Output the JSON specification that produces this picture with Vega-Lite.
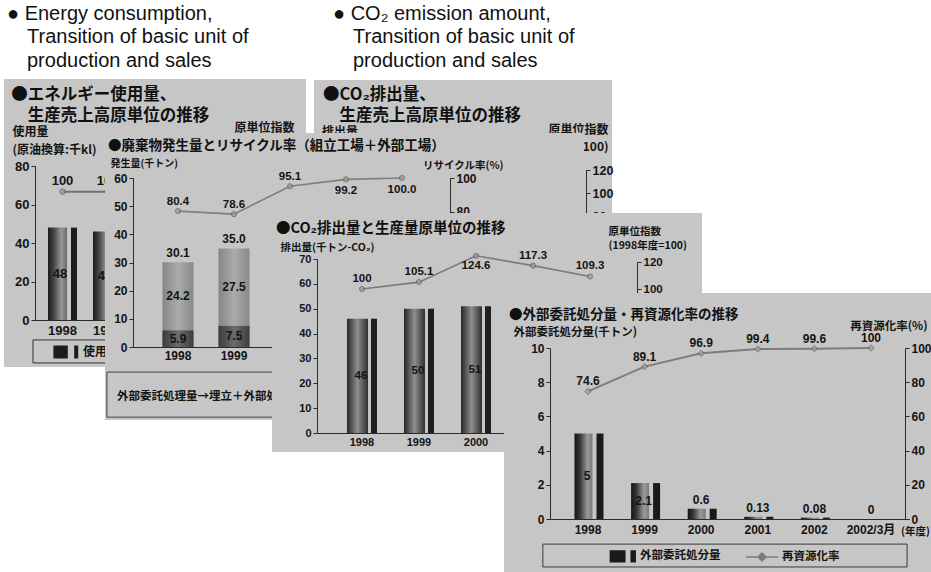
{
  "$schema": "https://vega.github.io/schema/vega-lite/v6.json",
  "background": "#ffffff",
  "padding": 0,
  "spacing": 0,
  "bounds": "flush",
  "resolve": {"scale": {"color": "independent"}, "legend": {"color": "independent"}},
  "datasets": {
    "frame": [{}],
    "energy_use": [{"year": "1998", "v": 48}, {"year": "1999", "v": 46}],
    "energy_index": [{"year": "1998", "idx": 100}, {"year": "1999", "idx": 100}],
    "waste": [
      {"year": "1998", "part": "外部委託処理量", "v": 5.9},
      {"year": "1998", "part": "リサイクル量", "v": 24.2},
      {"year": "1999", "part": "外部委託処理量", "v": 7.5},
      {"year": "1999", "part": "リサイクル量", "v": 27.5}
    ],
    "recycle_rate": [
      {"year": "1998", "r": 80.4}, {"year": "1999", "r": 78.6}, {"year": "2000", "r": 95.1},
      {"year": "2001", "r": 99.2}, {"year": "2002", "r": 100.0}
    ],
    "co2": [{"year": "1998", "v": 46}, {"year": "1999", "v": 50}, {"year": "2000", "v": 51}],
    "co2_index": [
      {"year": "1998", "r": 100}, {"year": "1999", "r": 105.1}, {"year": "2000", "r": 124.6},
      {"year": "2001", "r": 117.3}, {"year": "2002", "r": 109.3}
    ],
    "outsourced": [
      {"year": "1998", "v": 5}, {"year": "1999", "v": 2.1}, {"year": "2000", "v": 0.6},
      {"year": "2001", "v": 0.13}, {"year": "2002", "v": 0.08}, {"year": "2002/3月", "v": 0}
    ],
    "reuse_rate": [
      {"year": "1998", "r": 74.6}, {"year": "1999", "r": 89.1}, {"year": "2000", "r": 96.9},
      {"year": "2001", "r": 99.4}, {"year": "2002", "r": 99.6}, {"year": "2002/3月", "r": 100}
    ]
  },
  "config": {
    "view": {"stroke": null},
    "axis": {
      "zindex": 1, "grid": false,
      "labelFont": "'Liberation Sans', 'Noto Sans CJK JP', sans-serif",
      "labelFontWeight": "bold", "labelColor": "#141414", "labelFontSize": 12,
      "labelOverlap": false, "labelPadding": 2,
      "domainColor": "#2a2a2a", "tickColor": "#2a2a2a", "tickSize": 4,
      "titleFont": "'Noto Sans CJK JP', sans-serif", "titleFontWeight": "bold",
      "titleColor": "#141414", "titleFontSize": 11,
      "titleAngle": 0, "titleAlign": "left", "titleBaseline": "middle"
    },
    "axisBand": {"ticks": false, "labelAngle": 0},
    "legend": {"labelFont": "'Noto Sans CJK JP', sans-serif", "labelFontWeight": "bold", "labelColor": "#141414"},
    "text": {"font": "'Liberation Sans', 'Noto Sans CJK JP', sans-serif", "fontWeight": "bold", "fontSize": 12, "color": "#141414"}
  },
  "hconcat": [
    {
      "width": 1, "height": 572,
      "title": {
        "text": ["● Energy consumption,", "\u200b\u2003Transition of basic unit of", "\u200b\u2003production and sales"],
        "subtitle": ["\u200b\u2005●エネルギー使用量、", "\u200b\u2005　生産売上高原単位の推移"],
        "anchor": "start", "frame": "group", "orient": "top", "offset": -124, "dx": 7,
        "font": "'Liberation Sans', 'DejaVu Sans', sans-serif", "fontSize": 20, "fontWeight": "normal",
        "lineHeight": 23.5, "color": "#111111",
        "subtitleFont": "'Noto Sans CJK JP', sans-serif", "subtitleFontSize": 16.5, "subtitleFontWeight": "bold",
        "subtitleLineHeight": 21, "subtitleColor": "#111111", "subtitlePadding": 16
      },
      "resolve": {"scale": {"x": "independent", "y": "independent"}},
      "layer": [
        {
          "data": {"name": "frame"},
          "layer": [
            {
              "mark": {"type": "rect", "color": "#c6c6c6"},
              "encoding": {
                "x": {"datum": 0, "type": "quantitative", "scale": {"domain": [0, 100], "range": [4, 306], "nice": false}, "axis": null},
                "x2": {"datum": 100},
                "y": {"datum": 0, "type": "quantitative", "scale": {"domain": [0, 100], "range": [79, 367], "nice": false}, "axis": null},
                "y2": {"datum": 100}
              }
            },
            {
              "mark": {"type": "rect", "filled": false, "stroke": "#333333", "strokeWidth": 1},
              "encoding": {
                "x": {"datum": 9.6, "type": "quantitative", "axis": null},
                "x2": {"datum": 98},
                "y": {"datum": 90.6, "type": "quantitative", "axis": null},
                "y2": {"datum": 98.6}
              }
            }
          ]
        },
        {
          "data": {"name": "energy_use"},
          "encoding": {
            "x": {"field": "year", "type": "ordinal",
                  "scale": {"type": "band", "domain": ["1998", "1999", "2000", "2001", "2002"], "range": [35, 270], "paddingInner": 0.35, "paddingOuter": 0.286},
                  "axis": {"orient": "bottom", "offset": -252, "zindex": 1, "values": ["1998", "1999"], "title": null, "labelFontSize": 13, "labelPadding": 4}},
            "y": {"field": "v", "type": "quantitative",
                  "scale": {"domain": [0, 80], "range": [320, 166], "nice": false},
                  "axis": {"orient": "left", "offset": -35, "zindex": 1, "values": [0, 20, 40, 60, 80], "labelFontSize": 13,
                           "title": ["使用量", "(原油換算:千kl)"], "titleX": -23, "titleY": 126, "titleBaseline": "top",
                           "titleFontSize": 12, "titleLineHeight": 18}}
          },
          "layer": [
            {"mark": {"type": "bar", "width": 19, "xOffset": -5,
                      "color": {"gradient": "linear", "x1": 0, "y1": 0, "x2": 1, "y2": 0,
                                "stops": [{"offset": 0, "color": "#1c1c1c"}, {"offset": 0.3, "color": "#444444"}, {"offset": 0.7, "color": "#979797"}, {"offset": 1, "color": "#6a6a6a"}]}}},
            {"mark": {"type": "bar", "width": 6, "xOffset": 11.5},
             "encoding": {"color": {"datum": "使用量", "type": "nominal",
                                    "scale": {"domain": ["使用量"], "range": ["#1c1c1c"]},
                                    "legend": {"orient": "none", "legendX": 46, "legendY": 335, "direction": "horizontal", "title": null,
                                               "labelFontSize": 12, "symbolSize": 1024, "labelOffset": 3, "padding": 0,
                                               "encode": {"symbols": {"update": {
                                                 "shape": {"value": "M-0.6,-0.4H0.3V0.4H-0.6Z M0.7,-0.4H0.95V0.4H0.7Z"},
                                                 "fill": {"value": "#1c1c1c"},
                                                 "stroke": {"value": "transparent"},
                                                 "opacity": {"value": 1}}}}}}}}
          ]
        },
        {
          "data": {"name": "energy_use"},
          "transform": [{"stack": "v", "groupby": ["year"], "as": ["v0", "v1"]}, {"fold": ["v0", "v1"], "as": ["edge", "pos"]}],
          "mark": {"type": "text", "xOffset": -2.5, "baseline": "middle", "fontSize": 13},
          "encoding": {
            "x": {"field": "year", "type": "ordinal",
                  "scale": {"type": "band", "domain": ["1998", "1999", "2000", "2001", "2002"], "range": [35, 270], "paddingInner": 0.35, "paddingOuter": 0.286},
                  "axis": null},
            "y": {"aggregate": "mean", "field": "pos", "type": "quantitative",
                  "scale": {"domain": [0, 80], "range": [320, 166], "nice": false}, "axis": null},
            "text": {"field": "v", "type": "quantitative", "format": "d"}
          }
        },
        {
          "data": {"name": "energy_index"},
          "encoding": {
            "x": {"field": "year", "type": "ordinal",
                  "scale": {"type": "band", "domain": ["1998", "1999", "2000", "2001", "2002"], "range": [35, 270], "paddingInner": 0.35, "paddingOuter": 0.286},
                  "axis": null},
            "y": {"field": "idx", "type": "quantitative",
                  "scale": {"domain": [0, 120], "range": [320, 166], "nice": false},
                  "axis": {"orient": "right", "offset": 269, "zindex": 1, "values": [], "labels": false,
                           "title": "原単位指数", "titleX": -6, "titleY": 122, "titleAlign": "center",
                           "titleBaseline": "top", "titleFontSize": 12}}
          },
          "layer": [
            {"mark": {"type": "line", "strokeWidth": 2, "color": "#707070"}},
            {"mark": {"type": "point", "shape": "circle", "filled": true, "size": 30, "color": "#9a9a9a", "stroke": "#555555", "strokeWidth": 1}},
            {"mark": {"type": "text", "baseline": "bottom", "dy": -4, "fontSize": 13},
             "encoding": {"text": {"field": "idx", "type": "quantitative", "format": "d"}}}
          ]
        }
      ]
    },
    {
      "width": 1, "height": 572,
      "title": {
        "text": ["\u200b\u2002● CO₂ emission amount,", "\u200b\u2002\u2003Transition of basic unit of", "\u200b\u2002\u2003production and sales"],
        "subtitle": ["●CO₂排出量、", "\u200b　生産売上高原単位の推移"],
        "anchor": "start", "frame": "group", "orient": "top", "offset": -124, "dx": 322,
        "font": "'Liberation Sans', 'DejaVu Sans', sans-serif", "fontSize": 20, "fontWeight": "normal",
        "lineHeight": 23.5, "color": "#111111",
        "subtitleFont": "'Noto Sans CJK JP', sans-serif", "subtitleFontSize": 16.5, "subtitleFontWeight": "bold",
        "subtitleLineHeight": 21, "subtitleColor": "#111111", "subtitlePadding": 16
      },
      "data": {"name": "frame"},
      "layer": [
        {
          "mark": {"type": "rect", "color": "#c6c6c6"},
          "encoding": {
            "x": {"datum": 0, "type": "quantitative", "scale": {"domain": [0, 100], "range": [313, 611], "nice": false}, "axis": null},
            "x2": {"datum": 100},
            "y": {"datum": 0, "type": "quantitative",
                  "scale": {"domain": [0, 120], "range": [308, 170], "nice": false, "zero": false},
                  "axis": {"orient": "right", "offset": 584, "zindex": 1, "values": [80, 100, 120], "labelFontSize": 12.5,
                           "title": ["原単位指数", "(1998年度=100)"], "titleX": 22, "titleY": 124, "titleAlign": "right",
                           "titleBaseline": "top", "titleFontSize": 12, "titleLineHeight": 17}},
            "y2": {"datum": 198.3}
          }
        },
        {
          "mark": {"type": "text", "font": "'Noto Sans CJK JP', sans-serif", "fontSize": 12, "fontWeight": "bold", "align": "center", "baseline": "middle"},
          "encoding": {
            "x": {"datum": 8.7, "type": "quantitative"},
            "y": {"datum": 153, "type": "quantitative"},
            "text": {"value": "排出量"}
          }
        }
      ]
    },
    {
      "width": 1, "height": 572,
      "title": {
        "text": "●廃棄物発生量とリサイクル率（組立工場＋外部工場）",
        "anchor": "start", "frame": "group", "orient": "top", "offset": -152, "dx": 106,
        "font": "'Noto Sans CJK JP', sans-serif", "fontSize": 13.5, "fontWeight": "bold", "color": "#111111"
      },
      "resolve": {"scale": {"x": "independent", "y": "independent"}},
      "layer": [
        {
          "data": {"name": "frame"},
          "layer": [
            {
              "mark": {"type": "rect", "color": "#c6c6c6"},
              "encoding": {
                "x": {"datum": 0, "type": "quantitative", "scale": {"domain": [0, 100], "range": [103, 582], "nice": false}, "axis": null},
                "x2": {"datum": 100},
                "y": {"datum": 0, "type": "quantitative", "scale": {"domain": [0, 100], "range": [133, 420], "nice": false}, "axis": null},
                "y2": {"datum": 100}
              }
            },
            {
              "mark": {"type": "rect", "filled": false, "stroke": "#444444", "strokeWidth": 1},
              "encoding": {
                "x": {"datum": 0.4, "type": "quantitative", "axis": null},
                "x2": {"datum": 97.5},
                "y": {"datum": 83.3, "type": "quantitative", "axis": null},
                "y2": {"datum": 99.0}
              }
            },
            {
              "mark": {"type": "text", "align": "left", "baseline": "middle", "font": "'Noto Sans CJK JP', sans-serif", "fontSize": 11.5, "fontWeight": "bold"},
              "encoding": {
                "x": {"datum": 2.5, "type": "quantitative", "axis": null},
                "y": {"datum": 92, "type": "quantitative", "axis": null},
                "text": {"value": "外部委託処理量→埋立＋外部処理量"}
              }
            }
          ]
        },
        {
          "data": {"name": "waste"},
          "encoding": {
            "x": {"field": "year", "type": "ordinal",
                  "scale": {"type": "band", "domain": ["1998", "1999", "2000", "2001", "2002"], "range": [131, 445], "paddingInner": 0.45, "paddingOuter": 0.5286},
                  "axis": {"orient": "bottom", "offset": -225, "zindex": 1, "values": ["1998", "1999"], "title": null, "labelFontSize": 12, "labelPadding": 3}},
            "y": {"aggregate": "sum", "field": "v", "type": "quantitative",
                  "scale": {"domain": [0, 60], "range": [347, 178], "nice": false},
                  "axis": {"orient": "left", "offset": -131, "zindex": 1, "values": [0, 10, 20, 30, 40, 50, 60], "labelFontSize": 12,
                           "title": "発生量(千トン)", "titleX": -23, "titleY": 163, "titleFontSize": 10}}
          },
          "layer": [
            {"mark": {"type": "bar", "width": 31,
                      "color": {"gradient": "linear", "x1": 0, "y1": 0, "x2": 1, "y2": 0,
                                "stops": [{"offset": 0, "color": "#858585"}, {"offset": 0.5, "color": "#ababab"}, {"offset": 1, "color": "#888888"}]}}},
            {"mark": {"type": "text", "baseline": "bottom", "dy": -2, "fontSize": 12},
             "encoding": {"text": {"aggregate": "sum", "field": "v", "type": "quantitative", "format": ".1f"}}}
          ]
        },
        {
          "data": {"name": "waste"},
          "transform": [{"filter": "datum.part === '外部委託処理量'"}],
          "mark": {"type": "bar", "width": 31,
                   "color": {"gradient": "linear", "x1": 0, "y1": 0, "x2": 1, "y2": 0,
                             "stops": [{"offset": 0, "color": "#3a3a3a"}, {"offset": 0.5, "color": "#6c6c6c"}, {"offset": 1, "color": "#3e3e3e"}]}},
          "encoding": {
            "x": {"field": "year", "type": "ordinal",
                  "scale": {"type": "band", "domain": ["1998", "1999", "2000", "2001", "2002"], "range": [131, 445], "paddingInner": 0.45, "paddingOuter": 0.5286},
                  "axis": null},
            "y": {"field": "v", "type": "quantitative", "scale": {"domain": [0, 60], "range": [347, 178], "nice": false}, "axis": null}
          }
        },
        {
          "data": {"name": "waste"},
          "transform": [{"stack": "v", "groupby": ["year"], "sort": [{"field": "part", "order": "descending"}], "as": ["v0", "v1"]},
                        {"fold": ["v0", "v1"], "as": ["edge", "pos"]}],
          "mark": {"type": "text", "baseline": "middle", "fontSize": 12},
          "encoding": {
            "x": {"field": "year", "type": "ordinal",
                  "scale": {"type": "band", "domain": ["1998", "1999", "2000", "2001", "2002"], "range": [131, 445], "paddingInner": 0.45, "paddingOuter": 0.5286},
                  "axis": null},
            "y": {"aggregate": "mean", "field": "pos", "type": "quantitative", "scale": {"domain": [0, 60], "range": [347, 178], "nice": false}, "axis": null},
            "detail": {"field": "part", "type": "nominal"},
            "text": {"field": "v", "type": "quantitative", "format": ".1f"}
          }
        },
        {
          "data": {"name": "recycle_rate"},
          "encoding": {
            "x": {"field": "year", "type": "ordinal",
                  "scale": {"type": "band", "domain": ["1998", "1999", "2000", "2001", "2002"], "range": [131, 445], "paddingInner": 0.45, "paddingOuter": 0.5286},
                  "axis": null},
            "y": {"field": "r", "type": "quantitative",
                  "scale": {"domain": [0, 100], "range": [347, 178], "nice": false},
                  "axis": {"orient": "right", "offset": 447, "zindex": 1, "values": [80, 100], "labelFontSize": 12,
                           "title": "リサイクル率(%)", "titleX": 53, "titleY": 165, "titleAlign": "right", "titleFontSize": 10.5}}
          },
          "layer": [
            {"mark": {"type": "line", "color": "#7e7e7e", "strokeWidth": 1.6}},
            {"mark": {"type": "point", "shape": "circle", "filled": true, "size": 26, "color": "#999999", "stroke": "#5c5c5c", "strokeWidth": 1}},
            {"transform": [{"filter": "datum.r < 99"}],
             "mark": {"type": "text", "baseline": "bottom", "dy": -4, "fontSize": 11.5},
             "encoding": {"text": {"field": "r", "type": "quantitative", "format": ".1f"}}},
            {"transform": [{"filter": "datum.r >= 99"}],
             "mark": {"type": "text", "baseline": "top", "dy": 6, "fontSize": 11.5},
             "encoding": {"text": {"field": "r", "type": "quantitative", "format": ".1f"}}}
          ]
        }
      ]
    },
    {
      "width": 1, "height": 572,
      "title": {
        "text": "●CO₂排出量と生産量原単位の推移",
        "anchor": "start", "frame": "group", "orient": "top", "offset": -236, "dx": 273,
        "font": "'Noto Sans CJK JP', sans-serif", "fontSize": 14.5, "fontWeight": "bold", "color": "#111111"
      },
      "resolve": {"scale": {"x": "independent", "y": "independent"}},
      "layer": [
        {
          "data": {"name": "frame"},
          "mark": {"type": "rect", "color": "#c6c6c6"},
          "encoding": {
            "x": {"datum": 0, "type": "quantitative", "scale": {"domain": [0, 100], "range": [269, 699], "nice": false}, "axis": null},
            "x2": {"datum": 100},
            "y": {"datum": 0, "type": "quantitative", "scale": {"domain": [0, 100], "range": [213, 452], "nice": false}, "axis": null},
            "y2": {"datum": 100}
          }
        },
        {
          "data": {"name": "co2"},
          "encoding": {
            "x": {"field": "year", "type": "ordinal",
                  "scale": {"type": "band", "domain": ["1998", "1999", "2000", "2001", "2002"], "range": [314, 632], "paddingInner": 0.4, "paddingOuter": 0.489},
                  "axis": {"orient": "bottom", "offset": -139, "zindex": 1, "values": ["1998", "1999", "2000"], "title": null, "labelFontSize": 11, "labelPadding": 3}},
            "y": {"field": "v", "type": "quantitative",
                  "scale": {"domain": [0, 70], "range": [433, 259], "nice": false},
                  "axis": {"orient": "left", "offset": -314, "zindex": 1, "values": [0, 10, 20, 30, 40, 50, 60, 70], "labelFontSize": 11,
                           "title": "排出量(千トン-CO₂)", "titleX": -37, "titleY": 247, "titleFontSize": 10.5}}
          },
          "layer": [
            {"mark": {"type": "bar", "width": 21, "xOffset": -4.5,
                      "color": {"gradient": "linear", "x1": 0, "y1": 0, "x2": 1, "y2": 0,
                                "stops": [{"offset": 0, "color": "#262626"}, {"offset": 0.5, "color": "#8e8e8e"}, {"offset": 1, "color": "#2e2e2e"}]}}},
            {"mark": {"type": "bar", "width": 6, "xOffset": 12, "color": "#1e1e1e"}}
          ]
        },
        {
          "data": {"name": "co2"},
          "transform": [{"stack": "v", "groupby": ["year"], "as": ["v0", "v1"]}, {"fold": ["v0", "v1"], "as": ["edge", "pos"]}],
          "mark": {"type": "text", "xOffset": -1, "baseline": "middle", "fontSize": 11.5},
          "encoding": {
            "x": {"field": "year", "type": "ordinal",
                  "scale": {"type": "band", "domain": ["1998", "1999", "2000", "2001", "2002"], "range": [314, 632], "paddingInner": 0.4, "paddingOuter": 0.489},
                  "axis": null},
            "y": {"aggregate": "mean", "field": "pos", "type": "quantitative", "scale": {"domain": [0, 70], "range": [433, 259], "nice": false}, "axis": null},
            "text": {"field": "v", "type": "quantitative", "format": "d"}
          }
        },
        {
          "data": {"name": "co2_index"},
          "encoding": {
            "x": {"field": "year", "type": "ordinal",
                  "scale": {"type": "band", "domain": ["1998", "1999", "2000", "2001", "2002"], "range": [314, 632], "paddingInner": 0.4, "paddingOuter": 0.489},
                  "axis": null},
            "y": {"field": "r", "type": "quantitative",
                  "scale": {"domain": [0, 120], "range": [424, 262], "nice": false},
                  "axis": {"orient": "right", "offset": 633, "zindex": 1, "values": [100, 120], "labelFontSize": 11.5,
                           "title": ["原単位指数", "(1998年度=100)"], "titleX": -29, "titleY": 226, "titleBaseline": "top",
                           "titleFontSize": 10.5, "titleLineHeight": 14}}
          },
          "layer": [
            {"mark": {"type": "line", "color": "#7a7a7a", "strokeWidth": 1.6}},
            {"mark": {"type": "point", "shape": "circle", "filled": true, "size": 26, "color": "#999999", "stroke": "#5c5c5c", "strokeWidth": 1}},
            {"transform": [{"filter": "datum.r < 120"}],
             "mark": {"type": "text", "baseline": "bottom", "dy": -5, "fontSize": 11.5},
             "encoding": {"text": {"field": "r", "type": "quantitative", "format": ".1~f"}}},
            {"transform": [{"filter": "datum.r >= 120"}],
             "mark": {"type": "text", "baseline": "top", "dy": 4, "fontSize": 11.5},
             "encoding": {"text": {"field": "r", "type": "quantitative", "format": ".1~f"}}}
          ]
        }
      ]
    },
    {
      "width": 1, "height": 572,
      "title": {
        "text": "●外部委託処分量・再資源化率の推移",
        "anchor": "start", "frame": "group", "orient": "top", "offset": -321, "dx": 505,
        "font": "'Noto Sans CJK JP', sans-serif", "fontSize": 13.5, "fontWeight": "bold", "color": "#111111"
      },
      "resolve": {"scale": {"x": "independent", "y": "independent"}},
      "layer": [
        {
          "data": {"name": "frame"},
          "layer": [
            {
              "mark": {"type": "rect", "color": "#c6c6c6"},
              "encoding": {
                "x": {"datum": 0, "type": "quantitative", "scale": {"domain": [0, 100], "range": [500, 927], "nice": false}, "axis": null},
                "x2": {"datum": 100},
                "y": {"datum": 0, "type": "quantitative", "scale": {"domain": [0, 100], "range": [293, 572], "nice": false}, "axis": null},
                "y2": {"datum": 100}
              }
            },
            {
              "mark": {"type": "rect", "filled": false, "stroke": "#3a3a3a", "strokeWidth": 1},
              "encoding": {
                "x": {"datum": 9.1, "type": "quantitative", "axis": null},
                "x2": {"datum": 94.4},
                "y": {"datum": 90.0, "type": "quantitative", "axis": null},
                "y2": {"datum": 98.2}
              }
            }
          ]
        },
        {
          "data": {"name": "outsourced"},
          "encoding": {
            "x": {"field": "year", "type": "ordinal",
                  "scale": {"type": "band", "domain": ["1998", "1999", "2000", "2001", "2002", "2002/3月"], "range": [546, 905], "paddingInner": 0.3, "paddingOuter": 0.321},
                  "axis": {"orient": "bottom", "offset": -53, "zindex": 1, "labelFontSize": 12, "labelPadding": 5,
                           "title": "(年度)", "titleX": 911, "titleY": 12, "titleAlign": "center", "titleFontSize": 10.5}},
            "y": {"field": "v", "type": "quantitative",
                  "scale": {"domain": [0, 10], "range": [519, 348], "nice": false},
                  "axis": {"orient": "left", "offset": -546, "zindex": 1, "values": [0, 2, 4, 6, 8, 10], "labelFontSize": 12,
                           "title": "外部委託処分量(千トン)", "titleX": -37, "titleY": 332, "titleFontSize": 11.5}}
          },
          "layer": [
            {"mark": {"type": "bar", "width": 18, "xOffset": -4.5,
                      "color": {"gradient": "linear", "x1": 0, "y1": 0, "x2": 1, "y2": 0,
                                "stops": [{"offset": 0, "color": "#151515"}, {"offset": 0.3, "color": "#353535"}, {"offset": 0.72, "color": "#9a9a9a"}, {"offset": 1, "color": "#7a7a7a"}]}}},
            {"mark": {"type": "bar", "width": 7, "xOffset": 12},
             "encoding": {"color": {"datum": "外部委託処分量", "type": "nominal",
                                    "scale": {"domain": ["外部委託処分量", "再資源化率"], "range": ["#1a1a1a", "#7c7c7c"]},
                                    "legend": {"orient": "none", "legendX": 599, "legendY": 539, "direction": "horizontal", "title": null,
                                               "labelFontSize": 11.5, "symbolSize": 1024, "labelOffset": 3, "columnPadding": 22, "padding": 0,
                                               "encode": {"symbols": {"update": {
                                                 "shape": {"signal": "datum.value === '外部委託処分量' ? 'M-0.6,-0.33H0.3V0.33H-0.6Z M0.7,-0.33H0.95V0.33H0.7Z' : 'M-1,0H-0.25M0.25,0H1M0,-0.25L0.25,0L0,0.25L-0.25,0Z'"},
                                                 "fill": {"signal": "datum.value === '外部委託処分量' ? '#1c1c1c' : '#a0a0a0'"},
                                                 "stroke": {"signal": "datum.value === '外部委託処分量' ? 'transparent' : '#6e6e6e'"},
                                                 "strokeWidth": {"value": 1.5}, "opacity": {"value": 1}}}}}}}},
            {"transform": [{"filter": "datum.v < 1"}],
             "mark": {"type": "text", "baseline": "bottom", "dy": -2, "fontSize": 12},
             "encoding": {"text": {"field": "v", "type": "quantitative", "format": ".2~f"}}}
          ]
        },
        {
          "data": {"name": "outsourced"},
          "transform": [{"filter": "datum.v >= 1"}, {"stack": "v", "groupby": ["year"], "as": ["v0", "v1"]}, {"fold": ["v0", "v1"], "as": ["edge", "pos"]}],
          "mark": {"type": "text", "xOffset": -1, "baseline": "middle", "fontSize": 12},
          "encoding": {
            "x": {"field": "year", "type": "ordinal",
                  "scale": {"type": "band", "domain": ["1998", "1999", "2000", "2001", "2002", "2002/3月"], "range": [546, 905], "paddingInner": 0.3, "paddingOuter": 0.321},
                  "axis": null},
            "y": {"aggregate": "mean", "field": "pos", "type": "quantitative", "scale": {"domain": [0, 10], "range": [519, 348], "nice": false}, "axis": null},
            "text": {"field": "v", "type": "quantitative", "format": ".2~f"}
          }
        },
        {
          "data": {"name": "reuse_rate"},
          "encoding": {
            "x": {"field": "year", "type": "ordinal",
                  "scale": {"type": "band", "domain": ["1998", "1999", "2000", "2001", "2002", "2002/3月"], "range": [546, 905], "paddingInner": 0.3, "paddingOuter": 0.321},
                  "axis": null},
            "y": {"field": "r", "type": "quantitative",
                  "scale": {"domain": [0, 100], "range": [519, 348], "nice": false},
                  "axis": {"orient": "right", "offset": 900, "zindex": 1, "values": [0, 20, 40, 60, 80, 100], "labelFontSize": 12,
                           "title": "再資源化率(%)", "titleX": 22, "titleY": 326, "titleAlign": "right", "titleFontSize": 11.5}}
          },
          "layer": [
            {"mark": {"type": "line", "strokeWidth": 2},
             "encoding": {"color": {"datum": "再資源化率", "type": "nominal", "scale": {"domain": ["外部委託処分量", "再資源化率"], "range": ["#1a1a1a", "#7c7c7c"]}}}},
            {"mark": {"type": "point", "shape": "diamond", "filled": true, "size": 40, "color": "#a0a0a0", "stroke": "#5a5a5a", "strokeWidth": 1}},
            {"mark": {"type": "text", "baseline": "bottom", "dy": -3, "fontSize": 12},
             "encoding": {"text": {"field": "r", "type": "quantitative", "format": ".1~f"}}}
          ]
        }
      ]
    }
  ]
}
